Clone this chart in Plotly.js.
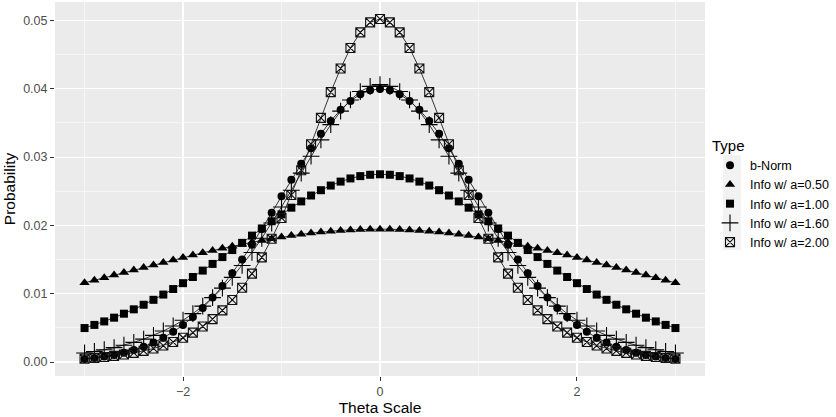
<!DOCTYPE html>
<html>
<head>
<meta charset="utf-8">
<script src="https://cdn.plot.ly/plotly-3.0.1.min.js"></script>
<style>html,body{margin:0;padding:0;background:#fff;}#chart{width:836px;height:417px;}</style>
</head>
<body>
<div id="chart"></div>
<script>
const theta = [-3.0,-2.9,-2.8,-2.7,-2.6,-2.5,-2.4,-2.3,-2.2,-2.1,-2.0,-1.9,-1.8,-1.7,-1.6,-1.5,-1.4,-1.3,-1.2,-1.1,-1.0,-0.9,-0.8,-0.7,-0.6,-0.5,-0.4,-0.3,-0.2,-0.1,0.0,0.1,0.2,0.3,0.4,0.5,0.6,0.7,0.8,0.9,1.0,1.1,1.2,1.3,1.4,1.5,1.6,1.7,1.8,1.9,2.0,2.1,2.2,2.3,2.4,2.5,2.6,2.7,2.8,2.9,3.0];

const bNorm = [0.00044,0.00060,0.00079,0.00104,0.00136,0.00176,0.00224,0.00284,0.00356,0.00441,0.00541,0.00658,0.00791,0.00943,0.01112,0.01298,0.01501,0.01718,0.01946,0.02183,0.02425,0.02667,0.02903,0.03130,0.03340,0.03529,0.03691,0.03822,0.03919,0.03978,0.03998,0.03978,0.03919,0.03822,0.03691,0.03529,0.03340,0.03130,0.02903,0.02667,0.02425,0.02183,0.01946,0.01718,0.01501,0.01298,0.01112,0.00943,0.00791,0.00658,0.00541,0.00441,0.00356,0.00284,0.00224,0.00176,0.00136,0.00104,0.00079,0.00060,0.00044];

const infoA050 = [0.01160,0.01197,0.01235,0.01272,0.01309,0.01347,0.01384,0.01421,0.01458,0.01494,0.01530,0.01565,0.01599,0.01632,0.01664,0.01695,0.01725,0.01753,0.01780,0.01805,0.01828,0.01850,0.01869,0.01887,0.01902,0.01915,0.01926,0.01934,0.01940,0.01944,0.01945,0.01944,0.01940,0.01934,0.01926,0.01915,0.01902,0.01887,0.01869,0.01850,0.01828,0.01805,0.01780,0.01753,0.01725,0.01695,0.01664,0.01632,0.01599,0.01565,0.01530,0.01494,0.01458,0.01421,0.01384,0.01347,0.01309,0.01272,0.01235,0.01197,0.01160];

const infoA100 = [0.00497,0.00543,0.00594,0.00649,0.00707,0.00771,0.00838,0.00910,0.00987,0.01068,0.01154,0.01244,0.01338,0.01436,0.01536,0.01639,0.01744,0.01850,0.01955,0.02060,0.02161,0.02259,0.02351,0.02437,0.02515,0.02583,0.02641,0.02687,0.02721,0.02741,0.02748,0.02741,0.02721,0.02687,0.02641,0.02583,0.02515,0.02437,0.02351,0.02259,0.02161,0.02060,0.01955,0.01850,0.01744,0.01639,0.01536,0.01436,0.01338,0.01244,0.01154,0.01068,0.00987,0.00910,0.00838,0.00771,0.00707,0.00649,0.00594,0.00543,0.00497];

const infoA160 = [0.00132,0.00154,0.00180,0.00210,0.00246,0.00287,0.00335,0.00390,0.00454,0.00527,0.00611,0.00708,0.00818,0.00942,0.01082,0.01239,0.01413,0.01604,0.01811,0.02034,0.02270,0.02515,0.02765,0.03013,0.03252,0.03475,0.03672,0.03836,0.03959,0.04035,0.04061,0.04035,0.03959,0.03836,0.03672,0.03475,0.03252,0.03013,0.02765,0.02515,0.02270,0.02034,0.01811,0.01604,0.01413,0.01239,0.01082,0.00942,0.00818,0.00708,0.00611,0.00527,0.00454,0.00390,0.00335,0.00287,0.00246,0.00210,0.00180,0.00154,0.00132];

const infoA200 = [0.00050,0.00060,0.00074,0.00090,0.00110,0.00134,0.00163,0.00198,0.00241,0.00292,0.00355,0.00430,0.00520,0.00628,0.00756,0.00908,0.01086,0.01293,0.01532,0.01804,0.02109,0.02445,0.02808,0.03188,0.03574,0.03950,0.04297,0.04596,0.04826,0.04972,0.05022,0.04972,0.04826,0.04596,0.04297,0.03950,0.03574,0.03188,0.02808,0.02445,0.02109,0.01804,0.01532,0.01293,0.01086,0.00908,0.00756,0.00628,0.00520,0.00430,0.00355,0.00292,0.00241,0.00198,0.00163,0.00134,0.00110,0.00090,0.00074,0.00060,0.00050];

const seriesNames = ["b-Norm","Info w/ a=0.50","Info w/ a=1.00","Info w/ a=1.60","Info w/ a=2.00"];
const seriesValues = [bNorm, infoA050, infoA100, infoA160, infoA200];

const markerStyles = [
  {symbol:"circle", size:8, color:"#000", line:{width:0}},
  {symbol:"triangle-up", size:9, color:"#000", line:{width:0}},
  {symbol:"square", size:8, color:"#000", line:{width:0}},
  {symbol:"cross-thin-open", size:12, color:"#000", line:{width:1.1, color:"#000"}},
  {symbol:"square-x-open", size:9, color:"#111", line:{width:1.1, color:"#111"}}
];

const traces = [];
seriesValues.forEach((vals, i) => {
  traces.push({
    type:"scatter", mode:"lines", x:theta, y:vals, name:seriesNames[i],
    showlegend:false, hoverinfo:"skip",
    line:{color:"#222", width:0.9}
  });
});
seriesValues.forEach((vals, i) => {
  traces.push({
    type:"scatter", mode:"markers", x:theta, y:vals, name:seriesNames[i],
    marker:markerStyles[i]
  });
});

const font = "Liberation Sans, Arial, sans-serif";
const layout = {
  width:836, height:417,
  margin:{l:55, r:128, t:2, b:41},
  paper_bgcolor:"#ffffff",
  plot_bgcolor:"#EBEBEB",
  font:{family:font, color:"#000"},
  showlegend:true,
  shapes:[{
    type:"rect", xref:"paper", yref:"paper", layer:"below",
    x0:1.0276, x1:1.0551, y0:0.337, y1:0.59,
    fillcolor:"#F2F2F2", line:{width:0}
  }],
  xaxis:{
    range:[-3.3,3.3], tick0:0, dtick:2,
    showgrid:true, gridcolor:"#ffffff", gridwidth:1.1,
    minor:{dtick:1, showgrid:true, gridcolor:"#ffffff", gridwidth:0.55},
    zeroline:false, showline:false,
    ticks:"outside", ticklen:4, tickwidth:1, tickcolor:"#333333",
    tickfont:{family:font, size:12.5, color:"#4D4D4D"},
    title:{text:"Theta Scale", font:{family:font, size:15.5, color:"#000"}, standoff:3}
  },
  yaxis:{
    range:[-0.00205,0.0527], tick0:0, dtick:0.01, tickformat:".2f",
    showgrid:true, gridcolor:"#ffffff", gridwidth:1.1,
    minor:{dtick:0.005, showgrid:true, gridcolor:"#ffffff", gridwidth:0.55},
    zeroline:false, showline:false,
    ticks:"outside", ticklen:4, tickwidth:1, tickcolor:"#333333",
    tickfont:{family:font, size:12.5, color:"#4D4D4D"},
    title:{text:"Probability", font:{family:font, size:15.5, color:"#000"}, standoff:3}
  },
  legend:{
    x:1.0077, xanchor:"left", y:0.655, yanchor:"top",
    bgcolor:"rgba(0,0,0,0)", borderwidth:0,
    font:{family:font, size:12.5, color:"#000"},
    title:{text:"Type", font:{family:font, size:15, color:"#000"}},
    tracegroupgap:0
  }
};

Plotly.newPlot("chart", traces, layout, {displayModeBar:false, staticPlot:true});
</script>
</body>
</html>
